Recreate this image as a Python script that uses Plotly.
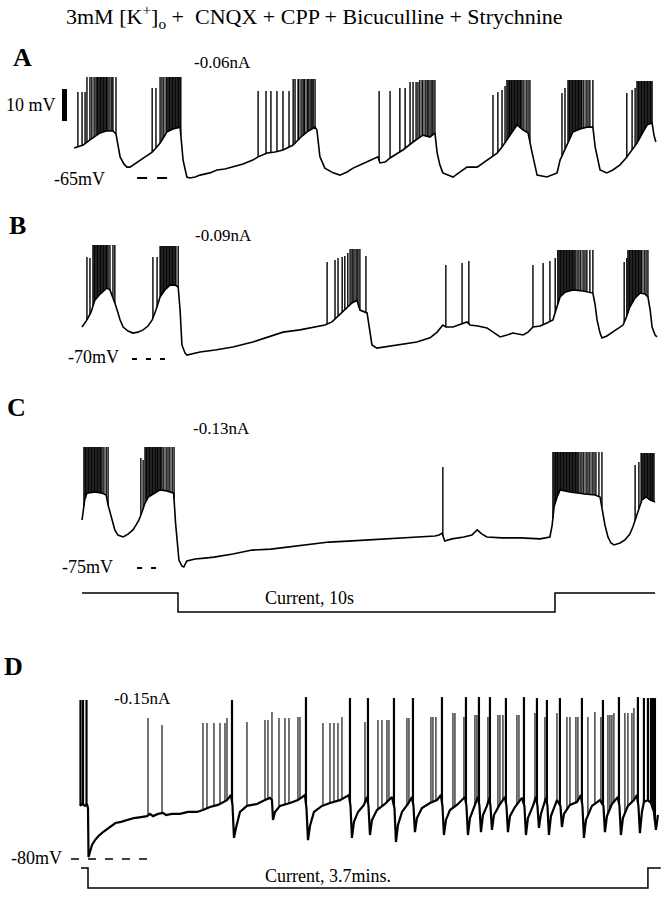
import numpy as np
import plotly.graph_objects as go

W, H = 664, 899

# ---------------- data (time in s, membrane potential in mV, current in nA) ----------------
# Panel A, -0.06 nA, baseline/plateau of the recording
A_vm = [(0.03,-55.6),(0.13,-55.3),(0.27,-54.7),(0.45,-53.1),(0.72,-50.9),(0.88,-50.3),(1.06,-50.3),
        (1.14,-51.25),(1.17,-53.1),(1.25,-58.4),(1.35,-60.6),(1.43,-61.6),(1.51,-61.6),(1.64,-60.6),
        (1.78,-59.4),(1.99,-57.8),(2.10,-56.9),(2.20,-55.6),(2.31,-54.1),(2.41,-52.2),(2.49,-50.6),
        (2.65,-49.7),(2.84,-49.1),(2.86,-51.6),(2.92,-59.4),(3.02,-64.7),(3.10,-65.0),(3.24,-64.7),
        (3.37,-64.1),(3.63,-63.4),(3.82,-62.5),(4.03,-62.2),(4.24,-61.6),(4.51,-60.6),(4.77,-59.4),
        (4.91,-58.4),(5.15,-57.2),(5.36,-56.9),(5.57,-56.25),(5.84,-54.7),(6.02,-52.5),(6.21,-50.6),
        (6.42,-49.1),(6.47,-50.0),(6.55,-58.4),(6.68,-61.9),(6.90,-63.4),(7.08,-64.1),(7.27,-63.1),
        (7.43,-61.9),(7.67,-60.6),(7.88,-59.4),(8.09,-58.4),(8.14,-60.3),(8.28,-60.0),(8.41,-58.75),
        (8.59,-57.5),(8.75,-56.25),(9.02,-53.75),(9.28,-51.6),(9.47,-52.2),(9.60,-50.9),(9.66,-57.2),
        (9.73,-60.9),(9.81,-63.4),(10.08,-64.7),(10.27,-63.1),(10.45,-61.6),(10.72,-61.6),(10.98,-59.4),
        (11.11,-58.4),(11.25,-57.2),(11.38,-55.3),(11.51,-53.1),(11.64,-50.6),(11.78,-48.4),(11.94,-50.0),
        (12.07,-50.9),(12.18,-57.2),(12.31,-64.1),(12.57,-64.7),(12.84,-63.4),(12.92,-59.4),(13.00,-57.2),
        (13.13,-53.75),(13.26,-50.6),(13.45,-49.7),(13.63,-49.1),(13.79,-49.1),(13.85,-55.3),(13.98,-62.5),
        (14.16,-63.4),(14.32,-62.5),(14.51,-60.9),(14.67,-58.75),(14.83,-56.25),(14.96,-54.1),
        (15.09,-51.25),(15.23,-48.4),(15.36,-47.8),(15.41,-51.6),(15.46,-53.75)]
# spikes: (peak mV, [spike times s])
A_spikes = [
    (-38.1, [0.13, 0.24, 0.32]),
    (-33.4, [0.37,0.45,0.50,0.56,0.61,0.64,0.66,0.69,0.72,0.74,0.77,0.80,0.82,0.85,0.88,0.90,0.93,0.98,1.03,1.06,1.14]),
    (-36.9, [2.10, 2.20]),
    (-33.4, [2.31,2.36,2.41,2.47,2.49,2.52,2.55,2.57,2.60,2.63,2.65,2.68,2.71,2.73,2.76,2.79,2.81,2.84,2.86]),
    (-37.8, [4.91,5.12,5.25,5.41,5.57,5.73]),
    (-34.1, [5.84,5.89,5.97,5.99,6.05,6.10,6.13,6.15,6.21,6.23,6.26,6.31,6.34,6.37,6.42]),
    (-37.8, [8.12, 8.41]), (-36.9, [8.67, 8.81]),
    (-35.0, [8.94,9.02,9.10,9.15]),
    (-34.4, [9.20,9.26,9.28,9.34,9.39,9.42,9.47,9.52,9.55,9.60]),
    (-39.1, [11.14]), (-38.1, [11.27]), (-37.5, [11.38]), (-36.25, [11.46]),
    (-34.4, [11.51,11.54,11.57,11.59,11.62,11.64,11.67,11.70,11.72,11.75,11.78,11.80,11.83,11.86,11.88,11.91,11.96,12.02,12.07,12.12]),
    (-38.4, [12.97]), (-36.9, [13.05]),
    (-34.4, [13.13,13.16,13.18,13.21,13.24,13.26,13.29,13.32,13.34,13.37,13.40,13.42,13.45,13.48,13.50,13.55,13.61,13.66,13.71,13.79]),
    (-38.4, [14.69]), (-37.5, [14.83]), (-36.9, [14.91]),
    (-34.7, [14.96,14.99,15.01,15.04,15.07,15.09,15.12,15.15,15.17,15.20,15.23,15.25,15.28,15.31,15.33,15.36]),
]

# Panel B, -0.09 nA
B_vm = [(0.24,-60.0),(0.37,-57.8),(0.48,-55.3),(0.58,-51.6),(0.72,-49.7),(0.90,-47.8),(0.98,-48.4),
        (1.06,-50.6),(1.11,-52.5),(1.17,-54.7),(1.25,-57.8),(1.33,-60.0),(1.46,-61.25),(1.59,-61.9),
        (1.72,-61.6),(1.86,-60.9),(1.99,-59.7),(2.10,-57.8),(2.20,-54.7),(2.31,-50.6),(2.44,-48.4),
        (2.57,-46.9),(2.71,-46.9),(2.79,-47.5),(2.84,-54.7),(2.89,-65.6),(2.97,-68.1),(3.02,-68.75),
        (3.16,-68.4),(3.37,-67.8),(3.77,-67.2),(4.24,-66.25),(4.77,-64.7),(5.17,-63.1),(5.57,-61.6),
        (6.02,-60.9),(6.47,-60.0),(6.68,-59.4),(6.87,-58.4),(7.00,-56.9),(7.14,-55.3),(7.27,-53.75),
        (7.40,-52.5),(7.53,-51.6),(7.61,-54.7),(7.80,-55.6),(7.88,-61.9),(7.93,-65.6),(8.06,-66.6),
        (8.41,-65.9),(8.75,-65.3),(9.12,-64.7),(9.47,-63.4),(9.66,-61.6),(9.81,-59.4),(9.89,-60.0),
        (10.08,-60.0),(10.27,-59.1),(10.45,-58.4),(10.53,-59.4),(10.74,-59.7),(10.98,-60.3),(11.19,-61.9),
        (11.33,-63.1),(11.51,-62.5),(11.67,-61.9),(11.94,-62.5),(12.07,-61.6),(12.20,-60.0),(12.39,-59.7),
        (12.57,-58.75),(12.73,-57.8),(12.81,-54.7),(12.92,-50.6),(13.05,-49.1),(13.26,-48.4),(13.53,-48.75),
        (13.79,-49.4),(13.85,-53.1),(13.90,-57.8),(13.98,-61.9),(14.03,-63.4),(14.16,-62.8),(14.32,-61.6),
        (14.46,-60.6),(14.59,-59.4),(14.67,-57.2),(14.77,-53.75),(14.91,-50.9),(15.04,-49.4),(15.17,-49.7),
        (15.25,-50.6),(15.31,-54.7),(15.36,-60.0),(15.44,-62.5),(15.49,-63.1)]
B_spikes = [
    (-38.1, [0.37]), (-38.4, [0.45]),
    (-34.4, [0.53,0.56,0.58,0.61,0.64,0.66,0.69,0.72,0.74,0.77,0.80,0.82,0.85,0.88,0.90,0.93,0.98,1.06,1.11]),
    (-38.1, [2.12, 2.23]),
    (-34.7, [2.31,2.33,2.36,2.39,2.41,2.44,2.47,2.49,2.52,2.55,2.57,2.60,2.63,2.65,2.68,2.71,2.73,2.79]),
    (-39.7, [6.74]), (-39.1, [6.95]), (-38.4, [7.03]), (-38.1, [7.14]), (-37.8, [7.21]), (-36.9, [7.29]),
    (-35.6, [7.35,7.40,7.43,7.48,7.53,7.56,7.61]), (-37.8, [7.77]),
    (-40.6, [9.89]), (-40.0, [10.32]), (-39.4, [10.50]),
    (-40.6, [12.20]), (-40.0, [12.47]), (-39.4, [12.65]), (-38.4, [12.79]),
    (-35.9, [12.86,12.89,12.92,12.94,12.97,13.00,13.02,13.05,13.08,13.10,13.13,13.16,13.18,13.21,13.24,
             13.26,13.29,13.32,13.37,13.42,13.47,13.53,13.58,13.63,13.71,13.79]),
    (-39.7, [14.62]), (-38.4, [14.69]),
    (-35.9, [14.72,14.75,14.77,14.80,14.83,14.85,14.88,14.91,14.93,14.96,14.99,15.01,15.04,15.07,15.09,15.15,15.20,15.25]),
]

# Panel C, -0.13 nA (current step of 10 s)
C_vm = [(0.24,-60.0),(0.27,-57.5),(0.31,-53.75),(0.37,-51.6),(0.58,-51.25),(0.77,-51.6),(0.88,-52.2),
        (0.93,-55.3),(1.03,-60.0),(1.11,-63.1),(1.19,-64.7),(1.33,-65.3),(1.46,-64.4),(1.59,-63.1),
        (1.67,-61.6),(1.75,-60.0),(1.83,-57.5),(1.91,-54.7),(2.00,-52.8),(2.15,-51.6),(2.31,-50.6),
        (2.49,-50.9),(2.67,-51.6),(2.72,-60.9),(2.81,-72.5),(2.89,-74.4),(2.94,-74.7),(3.02,-72.8),
        (3.24,-72.2),(3.50,-71.9),(3.74,-71.6),(4.24,-70.6),(4.75,-69.4),(5.25,-69.1),(5.78,-68.4),
        (6.29,-67.5),(6.79,-66.9),(7.29,-66.6),(7.82,-66.25),(8.33,-65.9),(8.83,-65.6),(9.34,-65.3),
        (9.60,-65.0),(9.71,-64.7),(9.79,-64.1),(9.86,-66.6),(10.05,-65.9),(10.37,-65.3),(10.58,-64.7),
        (10.72,-63.1),(10.85,-64.4),(10.98,-65.3),(11.38,-65.6),(11.88,-65.6),(12.39,-65.9),(12.65,-65.3),
        (12.71,-61.6),(12.76,-55.9),(12.84,-52.8),(12.92,-50.6),(13.18,-51.25),(13.58,-51.9),(13.85,-52.2),
        (13.98,-52.8),(14.03,-55.9),(14.11,-61.6),(14.19,-65.3),(14.27,-67.2),(14.35,-67.8),(14.51,-67.2),
        (14.64,-66.25),(14.77,-64.4),(14.85,-62.2),(14.93,-59.4),(15.01,-56.25),(15.09,-53.75),
        (15.20,-52.8),(15.31,-53.75),(15.44,-54.4)]
C_spikes = [
    (-37.2, [0.29,0.32,0.34,0.37,0.40,0.42,0.45,0.48,0.50,0.53,0.56,0.58,0.61,0.64,0.66,0.69,0.72,0.74,0.77,0.82,0.88,0.93]),
    (-40.6, [1.80]), (-41.25, [1.86]),
    (-37.2, [1.91,1.94,1.96,1.99,2.02,2.04,2.07,2.10,2.12,2.15,2.18,2.20,2.23,2.25,2.28,2.31,2.33,2.36,2.41,2.47,2.52,2.57,2.63,2.68]),
    (-43.4, [9.81]),
    (-38.75, [12.73,12.76,12.79,12.81,12.84,12.86,12.89,12.92,12.94,12.97,13.00,13.02,13.05,13.08,13.10,13.13,
              13.16,13.18,13.21,13.24,13.26,13.29,13.32,13.34,13.37,13.40,13.45,13.50,13.55,13.61,13.66,13.71,
              13.77,13.82,13.87,13.95,14.03]),
    (-42.8, [14.91]), (-41.9, [15.01]),
    (-39.1, [15.07,15.09,15.12,15.15,15.17,15.20,15.23,15.25,15.28,15.31,15.33,15.36,15.38,15.41]),
]
C_current_t = [0.24, 2.785, 2.785, 12.785, 12.785, 15.44]
C_current_nA = [0.0, 0.0, -0.13, -0.13, 0.0, 0.0]

# Panel D, -0.15 nA (current step of 3.7 min)
D_vm = [(0.0,-63.4),(0.79,-62.8),(1.98,-63.4),(2.77,-62.8),(3.17,-64.1),(3.37,-79.4),(3.96,-77.8),
        (4.76,-75.6),(5.94,-74.1),(7.33,-72.8),(9.11,-71.6),(10.70,-70.6),(12.29,-69.7),(14.07,-68.75),
        (16.25,-68.4),(19.02,-67.8),(21.40,-67.2),(24.17,-66.9),(26.55,-66.6),(27.74,-65.9),(28.93,-66.6),
        (30.91,-65.9),(32.89,-65.6),(34.08,-66.25),(36.46,-65.9),(39.63,-65.9),(42.80,-65.3),(46.37,-65.3),
        (48.74,-64.7),(51.52,-63.75),(54.69,-63.1),(58.26,-61.6),(59.84,-60.0),(60.44,-63.1),(61.03,-73.4),
        (61.82,-70.3),(63.41,-65.3),(66.18,-63.4),(70.15,-62.8),(73.32,-61.6),(75.30,-60.9),(76.09,-61.6),
        (76.49,-67.8),(77.28,-65.3),(79.26,-63.4),(83.22,-62.5),(86.39,-61.6),(89.17,-60.0),(89.76,-64.1),
        (90.36,-74.1),(91.15,-69.7),(92.73,-65.3),(95.90,-63.4),(99.08,-62.5),(103.04,-61.6),(106.61,-60.0),
        (107.20,-63.4),(107.79,-73.4),(108.59,-68.4),(110.17,-65.3),(112.55,-63.1),(113.74,-60.6),
        (114.33,-63.4),(114.93,-72.5),(115.72,-67.8),(117.70,-64.7),(120.87,-62.8),(123.65,-60.6),
        (124.64,-64.1),(125.23,-74.7),(126.02,-69.4),(127.61,-65.3),(129.99,-62.8),(131.57,-60.6),
        (132.17,-63.4),(132.76,-71.6),(133.55,-67.2),(135.53,-64.1),(138.71,-62.5),(141.48,-61.6),
        (143.06,-60.0),(143.66,-63.4),(144.25,-72.5),(145.05,-67.8),(146.63,-64.7),(149.41,-63.1),
        (152.58,-60.6),(153.17,-63.4),(153.76,-72.5),(154.56,-67.2),(156.14,-64.1),(157.73,-60.6),
        (158.32,-63.4),(158.92,-71.6),(159.71,-66.25),(161.29,-63.4),(162.28,-60.9),(162.68,-63.4),
        (163.28,-70.9),(164.07,-66.25),(166.05,-63.4),(168.43,-60.6),(169.02,-63.4),(169.62,-71.6),
        (170.41,-66.6),(172.39,-63.75),(175.16,-60.9),(176.15,-63.4),(176.75,-72.5),(177.54,-67.2),
        (179.52,-63.4),(180.71,-60.6),(181.31,-63.4),(181.90,-70.3),(182.69,-65.9),(184.68,-60.9),
        (185.27,-63.4),(185.86,-72.5),(186.66,-66.6),(189.04,-61.6),(190.42,-63.4),(191.02,-70.0),
        (191.81,-65.9),(194.19,-63.1),(196.96,-62.2),(198.55,-60.0),(199.14,-63.4),(199.74,-73.4),
        (200.53,-67.8),(202.91,-63.4),(206.08,-61.6),(207.47,-63.4),(208.06,-71.6),(208.85,-66.6),
        (210.83,-62.8),(213.21,-60.6),(213.80,-63.4),(214.40,-72.5),(215.19,-67.2),(217.17,-63.4),
        (219.55,-61.6),(220.74,-60.0),(221.33,-63.4),(221.93,-71.9),(222.72,-65.3),(223.51,-62.2),
        (225.10,-61.6),(226.29,-62.5),(227.48,-65.3),(228.27,-70.9),(229.07,-66.25)]
D_spikes = [
    (-30.3, [0.20, 1.19, 2.58]),
    (-35.9, [26.95]), (-38.1, [32.50]),
    (-37.5, [48.74, 50.33, 53.10, 55.48, 57.46]), (-35.9, [58.26]), (-30.3, [60.24]),
    (-37.2, [66.18]),
    (-36.6, [73.32, 74.50]), (-34.1, [76.09]),
    (-35.9, [78.87, 81.24, 82.83]),
    (-35.6, [86.39, 87.19]), (-29.4, [89.56]),
    (-37.5, [96.30, 99.08, 100.66, 102.25]), (-35.6, [103.83]), (-29.7, [107.00]),
    (-37.2, [112.95]), (-29.7, [114.13]),
    (-36.6, [118.10, 119.68, 121.66, 122.46]), (-29.7, [124.44]),
    (-35.9, [129.59, 130.38]), (-29.7, [131.97]),
    (-35.6, [139.10, 139.89, 141.08]), (-29.4, [143.46]),
    (-34.4, [147.82, 148.61]), (-35.6, [152.18]), (-29.4, [152.97]),
    (-35.0, [156.54, 157.33]), (-29.4, [158.12]),
    (-35.6, [161.69]), (-29.4, [162.48]),
    (-35.0, [165.65, 166.45, 167.63]), (-29.7, [168.82]),
    (-35.0, [173.18, 173.98]), (-29.4, [175.96]),
    (-34.4, [180.32]), (-29.7, [181.11]),
    (-35.6, [184.28]), (-30.3, [185.07]),
    (-34.4, [189.04]), (-29.7, [190.22]),
    (-35.6, [193.00, 194.19, 196.56, 197.36]), (-29.7, [198.94]),
    (-35.6, [201.32, 206.47]), (-34.1, [204.09]), (-30.3, [207.27]),
    (-35.0, [209.25, 210.04, 210.83]), (-34.4, [211.62]), (-29.4, [213.61]),
    (-34.4, [215.98, 217.17, 218.76]), (-32.8, [219.55]), (-29.4, [221.13]),
    (-29.7, [223.51, 225.10, 226.29, 227.08, 227.88]),
]
D_current_t = [0.40, 3.17, 3.17, 225.10, 225.10, 230.2]
D_current_nA = [0.0, 0.0, -0.15, -0.15, 0.0, 0.0]

PANELS = ["A", "B", "C", "D"]
HOLD_MV = [-65, -70, -75, -80]
INJ_LABELS = ["-0.06nA", "-0.09nA", "-0.13nA", "-0.15nA"]
SCALE_MV = 10
TITLE = "3mM [K<sup>+</sup>]<sub>o</sub> + &nbsp;CNQX + CPP + Bicuculline + Strychnine"

# ---------------- layout helpers (pixel geometry of the page) ----------------
FONT = "Liberation Serif"
INK = "#000000"
MV_PX = 3.2          # px per mV
S_PX_ABC = 37.7      # px per s, panels A-C
S_PX_D = 2.523       # px per s, panel D
TALL_MV = -31.0      # spikes above this are drawn heavier in panel D


def ydomain(top, bot):
    return [1 - bot / H, 1 - top / H]


def yrange(top, bot, ref_px, ref_val, k):
    return [ref_val - (bot - ref_px) / k, ref_val + (ref_px - top) / k]


fig = go.Figure()


def add_line(x, y, xa, ya, w, dash="solid"):
    fig.add_trace(go.Scatter(x=x, y=y, mode="lines", xaxis=xa, yaxis=ya, hoverinfo="skip",
                             line=dict(color=INK, width=w, dash=dash)))


def add_vm(pairs, spikes, xa, ya, wb, ws, wtall=None):
    t = [p[0] for p in pairs]
    v = [p[1] for p in pairs]
    add_line(t, v, xa, ya, wb)
    groups = {"thin": ([], []), "tall": ([], [])}
    for pk, ts in spikes:
        key = "tall" if (wtall is not None and pk > TALL_MV) else "thin"
        xs, ys = groups[key]
        for s in ts:
            b = float(np.interp(s, t, v))
            xs += [s, s, None]
            ys += [b, pk, None]
    add_line(groups["thin"][0], groups["thin"][1], xa, ya, ws)
    if wtall is not None:
        add_line(groups["tall"][0], groups["tall"][1], xa, ya, wtall)


add_vm(A_vm, A_spikes, "x", "y", 1.6, 1.4)
add_vm(B_vm, B_spikes, "x", "y2", 1.6, 1.4)
add_vm(C_vm, C_spikes, "x", "y3", 1.6, 1.4)
add_vm(D_vm, D_spikes, "x2", "y4", 2.2, 1.1, 2.2)
add_line(C_current_t, C_current_nA, "x", "y5", 1.5)
add_line(D_current_t, D_current_nA, "x2", "y6", 1.5)

# hold-level dashes
add_line([1.70, 2.50], [HOLD_MV[0]] * 2, "x", "y", 2.0, "10px,10px")
add_line([1.565, 2.44], [HOLD_MV[1]] * 2, "x", "y2", 2.0, "5px,9px")
add_line([1.70, 2.44], [HOLD_MV[2]] * 2, "x", "y3", 2.0, "5px,9px")
add_line([-3.57, 26.95], [HOLD_MV[3]] * 2, "x2", "y4", 1.5, "8px,9px")
# 10 mV scale bar
add_line([-0.225, -0.225], [-47.2, -47.2 + SCALE_MV], "x", "y", 5)

ax = dict(visible=False, fixedrange=True, showgrid=False, zeroline=False)
layout = dict(
    width=W, height=H, margin=dict(l=0, r=0, t=0, b=0),
    paper_bgcolor="white", plot_bgcolor="white", showlegend=False,
    xaxis=dict(ax, domain=[0, 1], range=[-73 / S_PX_ABC, (W - 73) / S_PX_ABC], anchor="y"),
    xaxis2=dict(ax, domain=[0, 1], range=[-80 / S_PX_D, (W - 80) / S_PX_D], anchor="y4"),
    yaxis=dict(ax, domain=ydomain(30, 194), range=yrange(30, 194, 178, HOLD_MV[0], MV_PX), anchor="x"),
    yaxis2=dict(ax, domain=ydomain(198, 372), range=yrange(198, 372, 359, HOLD_MV[1], MV_PX), anchor="x"),
    yaxis3=dict(ax, domain=ydomain(376, 582), range=yrange(376, 582, 568, HOLD_MV[2], MV_PX), anchor="x"),
    yaxis5=dict(ax, domain=ydomain(583, 624), range=yrange(583, 624, 593, 0, 19 / 0.13), anchor="x"),
    yaxis4=dict(ax, domain=ydomain(628, 864), range=yrange(628, 864, 859, HOLD_MV[3], MV_PX), anchor="x2"),
    yaxis6=dict(ax, domain=ydomain(864, 898), range=yrange(864, 898, 868, 0, 20 / 0.15), anchor="x2"),
)
fig.update_layout(**layout)


def label(text, x, y, size=18, xanchor="left", weight="normal"):
    fig.add_annotation(text=text, x=x / W, y=1 - y / H, xref="paper", yref="paper",
                       xanchor=xanchor, yanchor="middle", showarrow=False,
                       font=dict(family=FONT, size=size, color=INK, weight=weight))


label(TITLE, 314, 16, 22, "center")
pos_letter = [(22, 57), (17, 225), (16, 408), (14, 666)]
pos_inj = [(192, 62), (193, 236), (191, 428), (112, 698)]
pos_hold = [(52, 179), (66, 357), (60, 567), (9, 858)]
for i, p in enumerate(PANELS):
    label(p, pos_letter[i][0], pos_letter[i][1], 26, "center", "bold")
    label(INJ_LABELS[i], pos_inj[i][0], pos_inj[i][1], 17)
    label("%dmV" % HOLD_MV[i], pos_hold[i][0], pos_hold[i][1], 18)
label("%d mV" % SCALE_MV, 58, 105, 18, "right")
label("Current, 10s", 309, 598, 18, "center")
label("Current, 3.7mins.", 328, 876, 18, "center")

fig.write_html("out.html", config={"displayModeBar": False},
               post_script="document.body.style.margin='0px';")
